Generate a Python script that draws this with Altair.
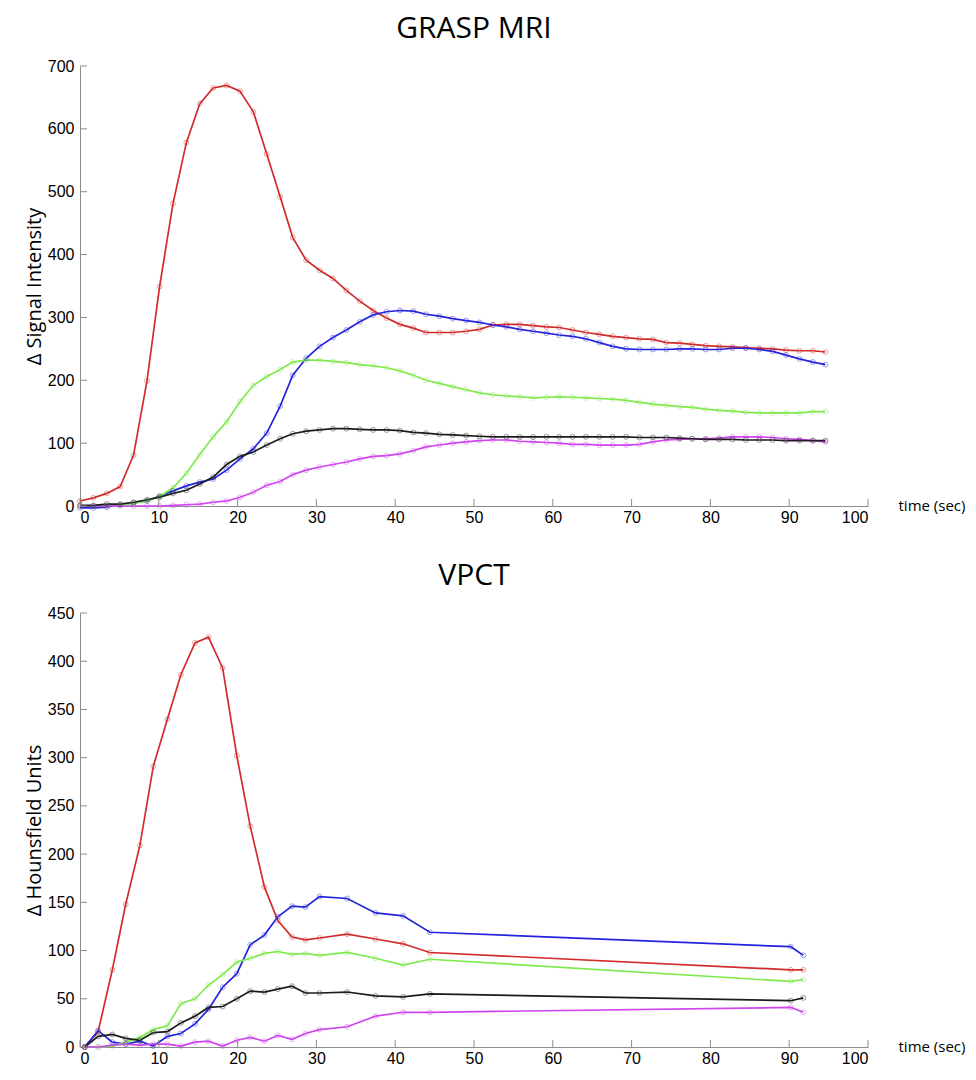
import altair as alt
import pandas as pd

# ---------------- data ----------------
series_names = ["red", "blue", "green", "magenta", "black"]
series_colors = ["#d22b2b", "#2424dd", "#7fea4d", "#cf45ee", "#1c1c1c"]

mri_time = [0.0, 1.7, 3.4, 5.1, 6.8, 8.5, 10.1, 11.8, 13.5, 15.2, 16.9, 18.6, 20.3, 22.0,
            23.7, 25.4, 27.0, 28.7, 30.4, 32.1, 33.8, 35.5, 37.2, 38.9, 40.6, 42.3, 43.9,
            45.6, 47.3, 49.0, 50.7, 52.4, 54.1, 55.8, 57.5, 59.2, 60.8, 62.5, 64.2, 65.9,
            67.6, 69.3, 71.0, 72.7, 74.4, 76.1, 77.7, 79.4, 81.1, 82.8, 84.5, 86.2, 87.9,
            89.6, 91.3, 93.0, 94.6]
mri_red = [8, 13, 20, 31, 81, 199, 349, 481, 578, 640, 665, 669, 660, 627, 560, 492, 427,
           391, 375, 362, 343, 326, 311, 299, 289, 283, 276, 276, 276, 278, 281, 288, 289,
           289, 287, 285, 284, 280, 276, 273, 270, 268, 266, 265, 260, 259, 257, 255, 254,
           253, 252, 251, 250, 248, 247, 247, 245]
mri_blue = [-3, -3, -2, 2, 5, 8, 16, 24, 32, 38, 43, 57, 75, 91, 116, 159, 208,
            235, 254, 268, 280, 293, 304, 309, 311, 310, 305, 302, 298, 295, 292, 288, 285,
            281, 278, 275, 272, 270, 266, 260, 254, 250, 249, 249, 249, 250, 250, 249, 249,
            251, 251, 249, 246, 240, 234, 229, 225]
mri_green = [0, 0, 1, 2, 4, 8, 15, 29, 52, 82, 110, 134, 166, 192, 206, 217, 229,
             232, 232, 230, 228, 225, 223, 220, 215, 208, 200, 195, 190, 185, 180, 177, 175,
             174, 172, 173, 174, 173, 172, 171, 170, 168, 165, 162, 160, 158, 157, 154, 152,
             151, 149, 148, 148, 148, 148, 150, 150]
mri_black = [1, 1, 3, 3, 6, 10, 14, 20, 25, 35, 46, 66, 79, 86, 97, 107, 115,
             119, 121, 123, 123, 122, 121, 121, 120, 117, 116, 114, 113, 112, 111, 110, 110,
             110, 110, 110, 110, 110, 110, 110, 110, 110, 109, 109, 109, 108, 107, 106, 106,
             106, 105, 105, 105, 104, 104, 104, 104]
mri_magenta = [0, 0, 0, 0, 0, 0, 0, 1, 2, 3, 6, 8, 14, 22, 33, 39, 50,
               57, 62, 66, 70, 75, 79, 80, 83, 88, 94, 97, 100, 102, 104, 105, 105,
               103, 102, 101, 100, 98, 98, 97, 97, 97, 98, 102, 105, 106, 107, 107, 108,
               110, 110, 110, 109, 107, 106, 104, 102]

ct_time = [0.6, 2.3, 4.1, 5.8, 7.6, 9.3, 11.1, 12.8, 14.6, 16.3, 18.1, 19.9, 21.6, 23.4,
           25.1, 26.9, 28.6, 30.4, 33.9, 37.5, 41.0, 44.4, 90.2, 91.8]
ct_red = [0, 16, 80, 148, 209, 291, 340, 386, 419, 425, 393, 302, 229, 166, 131, 114, 111,
          113, 117, 112, 107, 98, 80, 80]
ct_blue = [0, 17, 5, 3, 6, 1, 11, 14, 24, 39, 62, 76, 106, 116, 135, 146, 145, 156, 154,
           139, 136, 119, 104, 95]
ct_green = [0, 0, 1, 5, 10, 18, 22, 45, 50, 64, 75, 88, 92, 97, 99, 96, 97, 95, 98, 92, 85,
            91, 68, 70]
ct_black = [0, 11, 13, 9, 7, 15, 16, 25, 32, 41, 42, 50, 58, 57, 60, 63, 56, 56, 57, 53, 52,
            55, 48, 51]
ct_magenta = [0, 0, 2, 3, 2, 3, 3, 1, 5, 6, 1, 7, 10, 6, 12, 8, 14, 18, 21, 32, 36, 36, 41, 36]

x_ticks = [0, 10, 20, 30, 40, 50, 60, 70, 80, 90, 100]
mri_y_ticks = [0, 100, 200, 300, 400, 500, 600, 700]
ct_y_ticks = [0, 50, 100, 150, 200, 250, 300, 350, 400, 450]


def to_long(time, cols):
    rows = []
    for name, vals in zip(series_names, cols):
        for t, v in zip(time, vals):
            rows.append({"time": t, "value": v, "series": name})
    return pd.DataFrame(rows)


mri_df = to_long(mri_time, [mri_red, mri_blue, mri_green, mri_magenta, mri_black])
ct_df = to_long(ct_time, [ct_red, ct_blue, ct_green, ct_magenta, ct_black])

W = 788
AXIS_GREY = "#8c8c8c"


def panel(df, title, ytitle, yticks, h):
    xs = alt.Scale(domain=[0, 100], nice=False)
    ys = alt.Scale(domain=[0, yticks[-1]], nice=False)
    color = alt.Color("series:N", scale=alt.Scale(domain=series_names, range=series_colors),
                      legend=None, sort=series_names)
    x = alt.X("time:Q", scale=xs,
              axis=alt.Axis(values=x_ticks, title="time (sec)", titleX=W + 30, titleY=-1,
                            titleAlign="left", titleBaseline="middle", titleAngle=0,
                            titleFontSize=15, labelPadding=3))
    y = alt.Y("value:Q", scale=ys,
              axis=alt.Axis(values=yticks, title=ytitle, titlePadding=3, labelPadding=6))
    lines = alt.Chart(df).mark_line(strokeWidth=1.7).encode(x=x, y=y, color=color)
    pts = alt.Chart(df).mark_point(filled=False, size=24, strokeWidth=1, opacity=0.45).encode(
        x=x, y=y, color=color)
    ytk = alt.Chart(pd.DataFrame({"value": yticks})).mark_rule(
        color=AXIS_GREY, strokeWidth=1).encode(y=y, x=alt.value(0), x2=alt.value(7))
    xtk = alt.Chart(pd.DataFrame({"time": x_ticks})).mark_rule(
        color=AXIS_GREY, strokeWidth=1).encode(x=x, y=alt.value(h), y2=alt.value(h - 7))
    return alt.layer(lines, pts, ytk, xtk).properties(
        width=W, height=h,
        title=alt.TitleParams(title, font="Open Sans", fontSize=30, fontWeight="normal",
                              color="black", anchor="middle", offset=14))


top = panel(mri_df, "GRASP MRI", "Δ Signal Intensity", mri_y_ticks, 440)
bottom = panel(ct_df, "VPCT", "Δ Hounsfield Units", ct_y_ticks, 434)

chart = alt.vconcat(top, bottom, spacing=36).properties(
    padding={"left": 16, "top": 6, "right": 0, "bottom": 0}
).configure_view(stroke=None).configure_axis(
    grid=False, ticks=False, tickSize=0, domainColor=AXIS_GREY, domainWidth=1,
    labelFont="Liberation Sans", labelFontSize=16, labelColor="black",
    titleFont="Open Sans", titleFontSize=20, titleFontWeight="normal", titleColor="black"
)

chart.save("out.html", embed_options={"renderer": "svg", "actions": False})
